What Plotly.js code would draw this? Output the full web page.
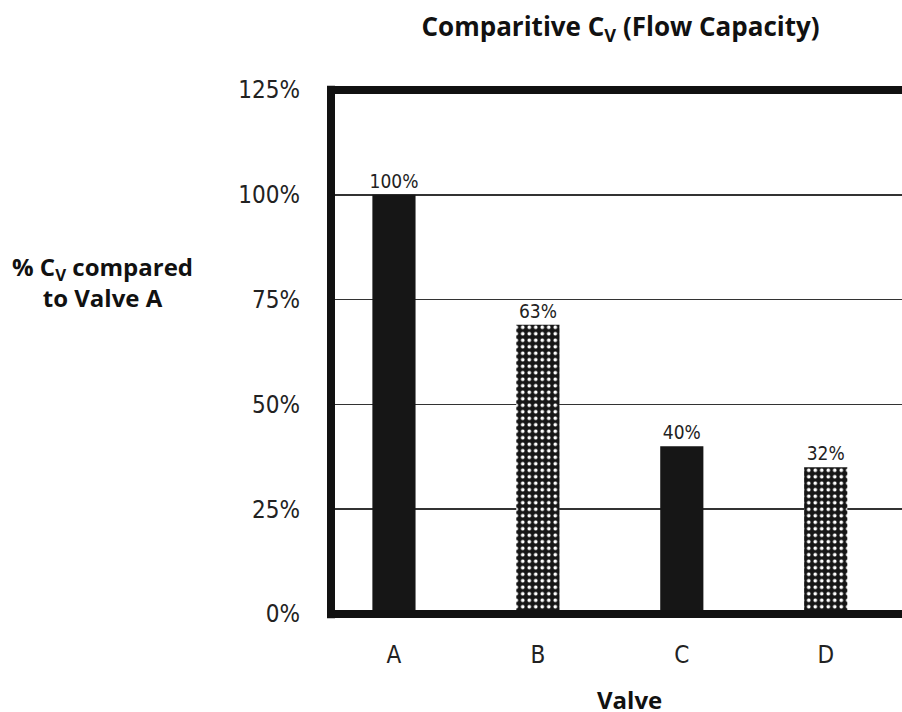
<!DOCTYPE html>
<html><head><meta charset="utf-8">
<script src="https://cdn.plot.ly/plotly-3.0.1.min.js"></script>
<style>
html,body{margin:0;padding:0;background:#fff;}
#chart{width:902px;height:712px;}
.xtick text, .ytick text, text.bartext { font-stretch: condensed !important; }
</style>
</head><body><div id="chart"></div>
<script>
const valves = ["A", "B", "C", "D"];
const barHeights = [100, 69, 40, 35];
const barLabels = ["100%", "63%", "40%", "32%"];
const barPatterns = ["", ".", "", "."];
const yTickVals = [0, 25, 50, 75, 100, 125];
const yTickText = ["0%", "25%", "50%", "75%", "100%", "125%"];

const narrow = "'DejaVu Sans', sans-serif";
const boldFont = "'Open Sans', Lato, sans-serif";

const trace = {
  type: "bar",
  x: valves,
  y: barHeights,
  text: barLabels,
  textposition: "outside",
  constraintext: "none",
  cliponaxis: false,
  textfont: {family: narrow, size: 19, color: "#222"},
  width: 0.3,
  marker: {
    color: "#161616",
    line: {width: 0},
    pattern: {shape: barPatterns, bgcolor: "#161616", fgcolor: "#ffffff", size: 6.5, solidity: 0.25, fillmode: "replace"}
  },
  hoverinfo: "none"
};

const layout = {
  width: 902, height: 712,
  margin: {l: 331, r: 0, t: 90, b: 98},
  paper_bgcolor: "#ffffff", plot_bgcolor: "#ffffff",
  showlegend: false,
  title: {text: "<b>Comparitive C<sub>V</sub> (Flow Capacity)</b>", x: 0.688, xanchor: "center", y: 0.962, yanchor: "middle",
          font: {family: boldFont, size: 26, color: "#111"}},
  xaxis: {
    type: "category",
    range: [-0.4375, 3.53],
    showgrid: false, zeroline: false, showline: false,
    ticks: "",
    ticklabelstandoff: 24,
    tickfont: {family: narrow, size: 24, color: "#222"}
  },
  yaxis: {
    range: [0, 125],
    tickvals: yTickVals, ticktext: yTickText,
    showgrid: true, gridcolor: "#333333", gridwidth: 1.5,
    zeroline: false, showline: false, ticks: "",
    ticklabelstandoff: 30,
    tickfont: {family: narrow, size: 24, color: "#222"}
  },
  annotations: [
    {
      text: "<b>% C<sub>V</sub> compared<br>to Valve A</b>",
      xref: "paper", yref: "paper", x: -0.40, y: 0.634, xanchor: "center", yanchor: "middle",
      showarrow: false, align: "center",
      font: {family: boldFont, size: 24, color: "#111"}
    },
    {
      text: "<b>Valve</b>",
      xref: "paper", yref: "paper", x: 0.522, y: -0.164, xanchor: "center", yanchor: "middle",
      showarrow: false,
      font: {family: boldFont, size: 24, color: "#111"}
    }
  ],
  shapes: [
    {type: "line", xref: "paper", yref: "paper", x0: -0.007, x1: 1.01, y0: 1, y1: 1, line: {color: "#111", width: 8}},
    {type: "line", xref: "paper", yref: "paper", x0: -0.007, x1: 1.01, y0: 0, y1: 0, line: {color: "#111", width: 8}},
    {type: "line", xref: "paper", yref: "paper", x0: 0, x1: 0, y0: -0.008, y1: 1.008, line: {color: "#111", width: 8}}
  ]
};

Plotly.newPlot("chart", [trace], layout, {displayModeBar: false, staticPlot: true});
</script>
</body></html>
